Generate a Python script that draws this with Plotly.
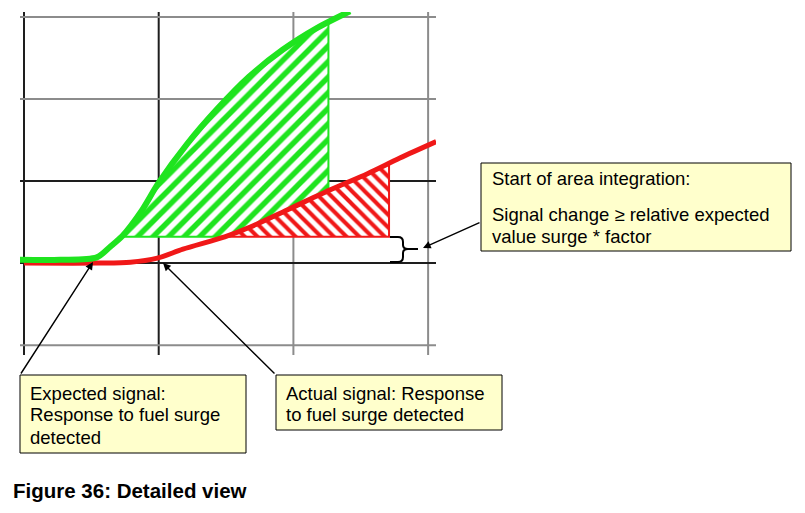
import numpy as np
import plotly.graph_objects as go

# ---- data ----
expected_x = [-0.03, 0.27, 0.54, 0.64, 0.73, 0.87, 1.00, 1.21, 1.43, 1.67, 1.92, 2.18, 2.42]
expected_y = [0.04, 0.04, 0.07, 0.20, 0.33, 0.63, 0.98, 1.45, 1.87, 2.27, 2.60, 2.87, 3.07]
actual_x = [0.0, 0.56, 0.79, 0.99, 1.18, 1.49, 1.68, 1.97, 2.27, 2.55, 2.79, 3.06]
actual_y = [0.0, 0.0, 0.01, 0.06, 0.17, 0.32, 0.44, 0.66, 0.89, 1.09, 1.28, 1.48]
threshold = 0.32          # start of area integration level
expected_window_end = 2.26
actual_window_end = 2.71
grid_x = [0, 1, 2, 3]
grid_x_dark = [True, True, False, False]
grid_y = [-1, 0, 1, 2, 3]
grid_y_dark = [False, True, True, False, False]

caption = "Figure 36: Detailed view"
box_start_lines = ["Start of area integration:", "Signal change \u2265 relative expected", "value surge * factor"]
box_expected_lines = ["Expected signal:", "Response to fuel surge", "detected"]
box_actual_lines = ["Actual signal: Response", "to fuel surge detected"]

# ---- layout geometry (reference-pixel space; page body has an 8px margin) ----
W, H = 805, 513
OFF = 8
PL, PR, PT, PB = 20, 436, 12, 355
XR = [-0.0297, 3.0586]
YR = [-1.12, 3.06]

def pxx(p):
    return (p - PL) / (PR - PL)

def pxy(p):
    return (PB - p) / (PB - PT)

GREEN = "#1FE41F"
RED = "#F01818"
FONT = "Liberation Sans, Arial, sans-serif"

ex = np.array(expected_x); ey = np.array(expected_y)
axx = np.array(actual_x); ayy = np.array(actual_y)

g_start = float(np.interp(threshold, ey, ex))
r_start = float(np.interp(threshold, ayy[1:], axx[1:]))

def g_at(x):
    return float(np.interp(x, ex, ey))

def r_at(x):
    return float(np.interp(x, axx, ayy))

# green hatched area
gx = [g_start] + [x for x in expected_x if g_start < x < expected_window_end] + [expected_window_end, expected_window_end]
gy = [threshold] + [y for x, y in zip(expected_x, expected_y) if g_start < x < expected_window_end] + [g_at(expected_window_end), r_at(expected_window_end)]
mid = [(x, y) for x, y in zip(actual_x, actual_y) if r_start < x < expected_window_end]
for x, y in reversed(mid):
    gx.append(x); gy.append(y)
gx += [r_start, g_start]
gy += [threshold, threshold]

# red hatched area
rx = [r_start] + [x for x in actual_x if r_start < x < actual_window_end] + [actual_window_end, actual_window_end, r_start]
ry = [threshold] + [y for x, y in zip(actual_x, actual_y) if r_start < x < actual_window_end] + [r_at(actual_window_end), threshold, threshold]

fig = go.Figure()
fig.add_trace(go.Scatter(x=rx, y=ry, mode="lines", fill="toself", fillcolor=RED,
                         line=dict(color=RED, width=2),
                         fillpattern=dict(shape="\\", fgcolor=RED, fgopacity=1, bgcolor="white", size=9, solidity=0.45),
                         hoverinfo="skip"))
fig.add_trace(go.Scatter(x=gx, y=gy, mode="lines", fill="toself", fillcolor=GREEN,
                         line=dict(color=GREEN, width=2),
                         fillpattern=dict(shape="/", fgcolor=GREEN, fgopacity=1, bgcolor="white", size=11, solidity=0.5),
                         hoverinfo="skip"))
fig.add_trace(go.Scatter(x=actual_x, y=actual_y, mode="lines",
                         line=dict(color=RED, width=5, shape="spline", smoothing=0.8), hoverinfo="skip"))
fig.add_trace(go.Scatter(x=expected_x, y=expected_y, mode="lines",
                         line=dict(color=GREEN, width=6, shape="spline", smoothing=0.8), hoverinfo="skip"))

shapes = []
for v, dark in zip(grid_x, grid_x_dark):
    shapes.append(dict(type="line", xref="x", yref="y", x0=v, x1=v, y0=YR[0], y1=YR[1],
                       line=dict(color="#1e1e1e" if dark else "#8c8c8c", width=2), layer="below"))
for v, dark in zip(grid_y, grid_y_dark):
    shapes.append(dict(type="line", xref="x", yref="y", y0=v, y1=v, x0=XR[0], x1=XR[1],
                       line=dict(color="#1e1e1e" if dark else "#8c8c8c", width=2), layer="below"))

# brace marking the threshold step
def P(x, y):
    return f"{pxx(x):.5f},{pxy(y):.5f}"

brace = (f"M{P(390,237)} L{P(398,237)} Q{P(403,237)} {P(403,242)} L{P(403,245)} "
         f"Q{P(403,249)} {P(408,249)} L{P(418,249)} M{P(408,249)} Q{P(403,249)} {P(403,253)} "
         f"L{P(403,257)} Q{P(403,262)} {P(398,262)} L{P(390,262)}")
shapes.append(dict(type="path", xref="paper", yref="paper", path=brace,
                   line=dict(color="black", width=2)))

BOX_FILL = "#FFFFCC"
def box(x0, y0, x1, y1):
    shapes.append(dict(type="rect", xref="paper", yref="paper",
                       x0=pxx(x0), x1=pxx(x1), y0=pxy(y1), y1=pxy(y0),
                       fillcolor=BOX_FILL, line=dict(color="black", width=1), layer="above"))

box(481, 163, 791, 251)
box(20, 375, 246, 453)
box(276, 375, 502, 430)

annotations = []
def text(x, y, t, size=18.5, bold=False):
    annotations.append(dict(xref="paper", yref="paper", x=pxx(x), y=pxy(y), xanchor="left", yanchor="middle",
                            text=f"<b>{t}</b>" if bold else t, showarrow=False,
                            font=dict(family=FONT, size=size, color="black")))

for t, yy in zip(box_start_lines, [178, 214, 236]):
    text(490, yy, t)
for t, yy in zip(box_expected_lines, [393, 415, 437]):
    text(28, yy, t)
for t, yy in zip(box_actual_lines, [393, 415]):
    text(284, yy, t)
text(11, 490, caption, size=20.5, bold=True)

def arrow(hx, hy, tx, ty):
    # head given in pixels, converted to data coordinates
    xd = XR[0] + (hx - PL) / (PR - PL) * (XR[1] - XR[0])
    yd = YR[1] - (hy - PT) / (PB - PT) * (YR[1] - YR[0])
    annotations.append(dict(xref="x", yref="y", x=xd, y=yd, ax=tx - hx, ay=ty - hy, text="",
                            showarrow=True, arrowhead=2, arrowsize=1.1, arrowwidth=1.4,
                            arrowcolor="black", standoff=0))

arrow(423, 248, 481, 222)
arrow(93, 262, 20, 375)
arrow(163, 263, 276, 375)

fig.update_layout(
    width=W - OFF, height=H - OFF,
    margin=dict(l=PL - OFF, r=W - PR, t=PT - OFF, b=H - PB, pad=0),
    paper_bgcolor="white", plot_bgcolor="white",
    showlegend=False,
    xaxis=dict(range=XR, visible=False, showgrid=False, zeroline=False, fixedrange=True),
    yaxis=dict(range=YR, visible=False, showgrid=False, zeroline=False, fixedrange=True),
    shapes=shapes, annotations=annotations,
)

fig.write_html("out.html")
